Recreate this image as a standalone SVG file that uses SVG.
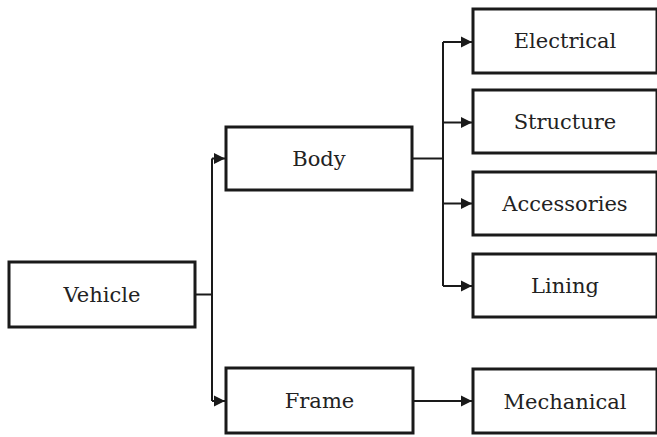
<svg xmlns="http://www.w3.org/2000/svg" width="657" height="437" viewBox="0 0 657 437">
  <style>
    .box { fill: #ffffff; stroke: #1a1a1a; stroke-width: 3; }
    .label { font-family: "DejaVu Serif", "Liberation Serif", serif; font-size: 21px; fill: #222222; text-anchor: middle; }
    .wire { fill: none; stroke: #1a1a1a; stroke-width: 2; }
    .arrow { fill: none; stroke: #1a1a1a; stroke-width: 2; marker-end: url(#head); }
  </style>
  <defs>
    <marker id="head" markerWidth="12" markerHeight="12" refX="11" refY="6" orient="auto" markerUnits="userSpaceOnUse">
      <path d="M0,0.5 L11,6 L0,11.5 Z" fill="#1a1a1a"/>
    </marker>
  </defs>
  <rect width="657" height="437" fill="#ffffff"/>

  <g id="connectors">
    <!-- Vehicle to its two branches -->
    <path class="wire" d="M195,294.5 H212"/>
    <path class="wire" d="M212,158.5 V401"/>
    <path class="arrow" d="M212,158.5 H225"/>
    <path class="arrow" d="M212,401 H225"/>
    <!-- Body to its four parts -->
    <path class="wire" d="M412,158.5 H443"/>
    <path class="wire" d="M443,42 V286"/>
    <path class="arrow" d="M443,42 H472"/>
    <path class="arrow" d="M443,122.5 H472"/>
    <path class="arrow" d="M443,203.5 H472"/>
    <path class="arrow" d="M443,286 H472"/>
    <!-- Frame to Mechanical -->
    <path class="arrow" d="M413,401 H472"/>
  </g>

  <g id="vehicle">
    <rect class="box" x="9" y="262" width="186" height="65"/>
    <text class="label" x="102" y="302">Vehicle</text>
  </g>
  <g id="body">
    <rect class="box" x="226" y="127" width="186" height="63"/>
    <text class="label" x="319" y="166">Body</text>
  </g>
  <g id="frame">
    <rect class="box" x="226" y="368" width="187" height="65"/>
    <text class="label" x="319.5" y="408">Frame</text>
  </g>
  <g id="electrical">
    <rect class="box" x="473" y="9" width="184" height="64"/>
    <text class="label" x="565" y="48">Electrical</text>
  </g>
  <g id="structure">
    <rect class="box" x="473" y="90" width="184" height="63"/>
    <text class="label" x="565" y="129">Structure</text>
  </g>
  <g id="accessories">
    <rect class="box" x="473" y="172" width="184" height="63"/>
    <text class="label" x="565" y="211">Accessories</text>
  </g>
  <g id="lining">
    <rect class="box" x="473" y="254" width="184" height="63"/>
    <text class="label" x="565" y="293">Lining</text>
  </g>
  <g id="mechanical">
    <rect class="box" x="473" y="369" width="184" height="64"/>
    <text class="label" x="565" y="409">Mechanical</text>
  </g>
</svg>
